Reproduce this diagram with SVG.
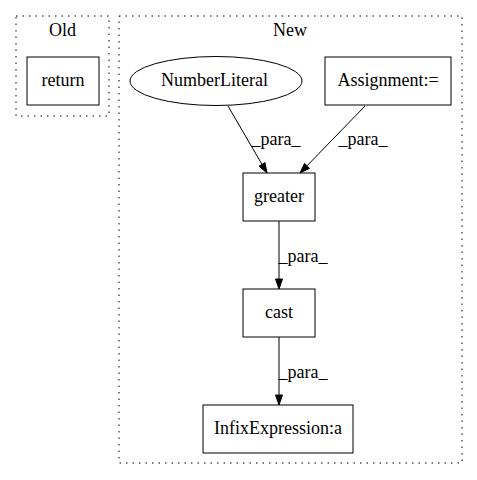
<svg xmlns="http://www.w3.org/2000/svg" width="477" height="480" viewBox="0 0 477 480">
<style>
text{font-family:"Liberation Serif","Times New Roman",serif;font-size:18px;fill:#000}
.c{fill:none;stroke:#000;stroke-dasharray:1.5,5}
.n{fill:#fff;stroke:#000;stroke-width:1}
.e{fill:none;stroke:#000;stroke-width:1}
.a{fill:#000;stroke:#000}
</style>
<rect width="477" height="480" fill="#fff"/>
<g id="cluster_old">
<rect class="c" x="16" y="16" width="93" height="100"/>
<text x="62.5" y="36" text-anchor="middle">Old</text>
</g>
<g id="cluster_new">
<rect class="c" x="119" y="16" width="343" height="447"/>
<text x="290" y="36" text-anchor="middle">New</text>
</g>
<g id="return">
<rect class="n" x="27" y="57" width="72" height="48"/>
<text x="63" y="86" text-anchor="middle">return</text>
</g>
<g id="NumberLiteral">
<ellipse class="n" cx="216" cy="81" rx="86" ry="24.5"/>
<text x="214.5" y="86" text-anchor="middle">NumberLiteral</text>
</g>
<g id="Assignment">
<rect class="n" x="325" y="57" width="126" height="48"/>
<text x="388" y="86" text-anchor="middle">Assignment:=</text>
</g>
<g id="greater">
<rect class="n" x="243" y="173" width="72" height="48"/>
<text x="279" y="202" text-anchor="middle">greater</text>
</g>
<g id="cast">
<rect class="n" x="243" y="289" width="72" height="48"/>
<text x="279" y="318" text-anchor="middle">cast</text>
</g>
<g id="InfixExpression">
<rect class="n" x="203" y="405" width="150" height="48"/>
<text x="278" y="434" text-anchor="middle">InfixExpression:a</text>
</g>
<g id="edges">
<path class="e" d="M228,106 L262,164.4"/>
<polygon class="a" points="265,162.6 267,173 259,166.2"/>
<text x="276" y="145" text-anchor="middle">_para_</text>
<path class="e" d="M365,106 L307,165.8"/>
<polygon class="a" points="309.5,168.3 300,173 304.5,163.4"/>
<text x="363" y="145" text-anchor="middle">_para_</text>
<path class="e" d="M279,221 L279,279"/>
<polygon class="a" points="275.5,279 279,289 282.5,279"/>
<text x="303" y="262" text-anchor="middle">_para_</text>
<path class="e" d="M279,337 L279,395"/>
<polygon class="a" points="275.5,395 279,405 282.5,395"/>
<text x="303" y="378" text-anchor="middle">_para_</text>
</g>
</svg>
